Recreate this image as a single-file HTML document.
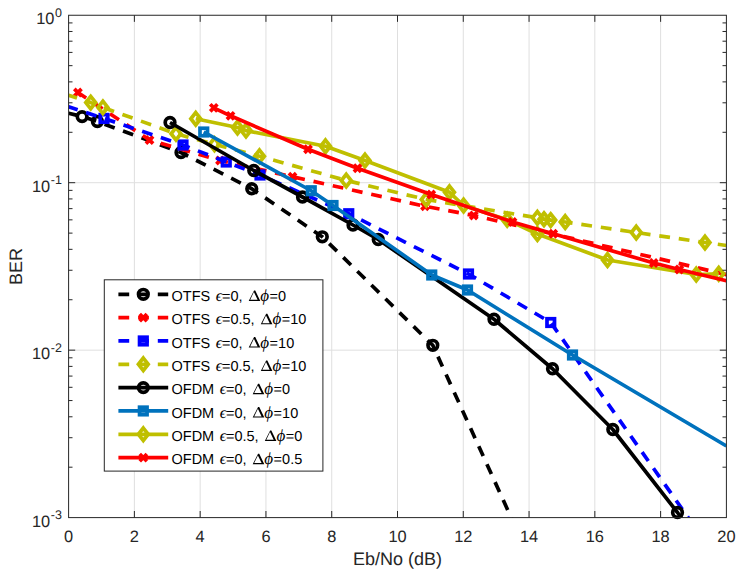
<!DOCTYPE html>
<html><head><meta charset="utf-8"><title>BER</title>
<style>
html,body{margin:0;padding:0;background:#fff;}
body{width:740px;height:574px;overflow:hidden;font-family:"Liberation Sans",sans-serif;}
svg{display:block}
text{font-family:"Liberation Sans",sans-serif;fill:#262626;text-rendering:geometricPrecision;}
.tk{font-size:16.4px}
.sup{font-size:12.5px}
.lb{font-size:18px}
.lg{font-size:14.5px;fill:#000}
.it{font-family:"Liberation Serif",serif;font-style:italic;font-size:16.5px;fill:#000}
.ph{font-size:17px}
.gr{font-family:"Liberation Serif",serif;font-size:15px;fill:#000}
</style></head><body>
<svg width="740" height="574" viewBox="0 0 740 574">
<rect width="740" height="574" fill="#fff"/>
<defs><clipPath id="cp"><rect x="68.6" y="15.25" width="657.8" height="502.35"/></clipPath></defs>

<g stroke="#dfdfdf" stroke-width="1" fill="none">
<line x1="134.38" y1="15.25" x2="134.38" y2="517.6"/>
<line x1="200.16" y1="15.25" x2="200.16" y2="517.6"/>
<line x1="265.94" y1="15.25" x2="265.94" y2="517.6"/>
<line x1="331.72" y1="15.25" x2="331.72" y2="517.6"/>
<line x1="397.50" y1="15.25" x2="397.50" y2="517.6"/>
<line x1="463.28" y1="15.25" x2="463.28" y2="517.6"/>
<line x1="529.06" y1="15.25" x2="529.06" y2="517.6"/>
<line x1="594.84" y1="15.25" x2="594.84" y2="517.6"/>
<line x1="660.62" y1="15.25" x2="660.62" y2="517.6"/>
<line x1="68.6" y1="182.70" x2="726.4" y2="182.70"/>
<line x1="68.6" y1="350.15" x2="726.4" y2="350.15"/>
</g>
<g fill="none">
<path d="M68.60 113.20L82.10 116.60L97.40 121.50L181.00 152.50L251.75 188.75L322.30 236.80L432.80 345.30L511.20 517.60L515.00 526.00" stroke="#000" stroke-width="3.7" stroke-linejoin="round" clip-path="url(#cp)" stroke-dasharray="10.8 8.9" stroke-dashoffset="1.80"/>
<circle cx="82.10" cy="116.60" r="4.80" fill="none" stroke="#000" stroke-width="3.7"/>
<circle cx="97.40" cy="121.50" r="4.80" fill="none" stroke="#000" stroke-width="3.7"/>
<circle cx="181.00" cy="152.50" r="4.80" fill="none" stroke="#000" stroke-width="3.7"/>
<circle cx="251.75" cy="188.75" r="4.80" fill="none" stroke="#000" stroke-width="3.7"/>
<circle cx="322.30" cy="236.80" r="4.80" fill="none" stroke="#000" stroke-width="3.7"/>
<circle cx="432.80" cy="345.30" r="4.80" fill="none" stroke="#000" stroke-width="3.7"/>
<path d="M77.90 92.50L149.50 140.00L220.00 160.50L292.50 176.75L425.00 206.25L473.75 215.50L560.00 235.60L726.40 274.60" stroke="#f00" stroke-width="3.7" stroke-linejoin="round" clip-path="url(#cp)" stroke-dasharray="10.8 8.9" stroke-dashoffset="0.93"/>
<path d="M74.30 88.90L81.50 96.10M74.30 96.10L81.50 88.90" fill="none" stroke="#f00" stroke-width="3.7" stroke-linecap="butt"/>
<path d="M145.90 136.40L153.10 143.60M145.90 143.60L153.10 136.40" fill="none" stroke="#f00" stroke-width="3.7" stroke-linecap="butt"/>
<path d="M216.40 156.90L223.60 164.10M216.40 164.10L223.60 156.90" fill="none" stroke="#f00" stroke-width="3.7" stroke-linecap="butt"/>
<path d="M288.90 173.15L296.10 180.35M288.90 180.35L296.10 173.15" fill="none" stroke="#f00" stroke-width="3.7" stroke-linecap="butt"/>
<path d="M421.40 202.65L428.60 209.85M421.40 209.85L428.60 202.65" fill="none" stroke="#f00" stroke-width="3.7" stroke-linecap="butt"/>
<path d="M470.15 211.90L477.35 219.10M470.15 219.10L477.35 211.90" fill="none" stroke="#f00" stroke-width="3.7" stroke-linecap="butt"/>
<path d="M68.60 106.80L104.00 118.40L183.00 145.00L226.25 162.00L260.00 175.00L348.75 213.75L468.50 274.00L550.75 322.50L688.20 517.60L691.20 526.00" stroke="#00f" stroke-width="3.7" stroke-linejoin="round" clip-path="url(#cp)" stroke-dasharray="10.8 8.9" stroke-dashoffset="1.28"/>
<rect x="100.25" y="114.65" width="7.5" height="7.5" fill="none" stroke="#00f" stroke-width="3.7"/>
<rect x="179.25" y="141.25" width="7.5" height="7.5" fill="none" stroke="#00f" stroke-width="3.7"/>
<rect x="222.50" y="158.25" width="7.5" height="7.5" fill="none" stroke="#00f" stroke-width="3.7"/>
<rect x="256.25" y="171.25" width="7.5" height="7.5" fill="none" stroke="#00f" stroke-width="3.7"/>
<rect x="345.00" y="210.00" width="7.5" height="7.5" fill="none" stroke="#00f" stroke-width="3.7"/>
<rect x="464.75" y="270.25" width="7.5" height="7.5" fill="none" stroke="#00f" stroke-width="3.7"/>
<rect x="547.00" y="318.75" width="7.5" height="7.5" fill="none" stroke="#00f" stroke-width="3.7"/>
<path d="M68.60 95.20L90.70 102.60L102.90 107.40L176.00 133.75L214.50 144.30L259.50 156.25L346.25 180.50L426.25 199.50L537.40 217.80L544.00 219.20L550.70 220.10L565.20 222.00L636.25 232.50L705.00 242.50L726.40 245.50" stroke="#bfbf00" stroke-width="3.7" stroke-linejoin="round" clip-path="url(#cp)" stroke-dasharray="10.8 8.9" stroke-dashoffset="1.93"/>
<path d="M90.70 96.40L95.60 102.60L90.70 108.80L85.80 102.60Z" fill="none" stroke="#bfbf00" stroke-width="3.7" stroke-linejoin="miter"/>
<path d="M102.90 101.20L107.80 107.40L102.90 113.60L98.00 107.40Z" fill="none" stroke="#bfbf00" stroke-width="3.7" stroke-linejoin="miter"/>
<path d="M176.00 127.55L180.90 133.75L176.00 139.95L171.10 133.75Z" fill="none" stroke="#bfbf00" stroke-width="3.7" stroke-linejoin="miter"/>
<path d="M214.50 138.10L219.40 144.30L214.50 150.50L209.60 144.30Z" fill="none" stroke="#bfbf00" stroke-width="3.7" stroke-linejoin="miter"/>
<path d="M259.50 150.05L264.40 156.25L259.50 162.45L254.60 156.25Z" fill="none" stroke="#bfbf00" stroke-width="3.7" stroke-linejoin="miter"/>
<path d="M346.25 174.30L351.15 180.50L346.25 186.70L341.35 180.50Z" fill="none" stroke="#bfbf00" stroke-width="3.7" stroke-linejoin="miter"/>
<path d="M426.25 193.30L431.15 199.50L426.25 205.70L421.35 199.50Z" fill="none" stroke="#bfbf00" stroke-width="3.7" stroke-linejoin="miter"/>
<path d="M537.40 211.60L542.30 217.80L537.40 224.00L532.50 217.80Z" fill="none" stroke="#bfbf00" stroke-width="3.7" stroke-linejoin="miter"/>
<path d="M544.00 213.00L548.90 219.20L544.00 225.40L539.10 219.20Z" fill="none" stroke="#bfbf00" stroke-width="3.7" stroke-linejoin="miter"/>
<path d="M550.70 213.90L555.60 220.10L550.70 226.30L545.80 220.10Z" fill="none" stroke="#bfbf00" stroke-width="3.7" stroke-linejoin="miter"/>
<path d="M565.20 215.80L570.10 222.00L565.20 228.20L560.30 222.00Z" fill="none" stroke="#bfbf00" stroke-width="3.7" stroke-linejoin="miter"/>
<path d="M636.25 226.30L641.15 232.50L636.25 238.70L631.35 232.50Z" fill="none" stroke="#bfbf00" stroke-width="3.7" stroke-linejoin="miter"/>
<path d="M705.00 236.30L709.90 242.50L705.00 248.70L700.10 242.50Z" fill="none" stroke="#bfbf00" stroke-width="3.7" stroke-linejoin="miter"/>
<path d="M170.00 122.50L253.75 170.50L302.50 197.00L353.00 225.00L378.25 239.50L494.00 319.25L552.50 368.75L612.80 429.50L677.50 512.50L684.20 521.80" stroke="#000" stroke-width="3.7" stroke-linejoin="round" clip-path="url(#cp)"/>
<circle cx="170.00" cy="122.50" r="4.80" fill="none" stroke="#000" stroke-width="3.7"/>
<circle cx="253.75" cy="170.50" r="4.80" fill="none" stroke="#000" stroke-width="3.7"/>
<circle cx="302.50" cy="197.00" r="4.80" fill="none" stroke="#000" stroke-width="3.7"/>
<circle cx="353.00" cy="225.00" r="4.80" fill="none" stroke="#000" stroke-width="3.7"/>
<circle cx="378.25" cy="239.50" r="4.80" fill="none" stroke="#000" stroke-width="3.7"/>
<circle cx="494.00" cy="319.25" r="4.80" fill="none" stroke="#000" stroke-width="3.7"/>
<circle cx="552.50" cy="368.75" r="4.80" fill="none" stroke="#000" stroke-width="3.7"/>
<circle cx="612.80" cy="429.50" r="4.80" fill="none" stroke="#000" stroke-width="3.7"/>
<circle cx="677.50" cy="512.50" r="4.80" fill="none" stroke="#000" stroke-width="3.7"/>
<path d="M203.75 132.00L311.25 190.75L333.00 205.50L431.75 275.00L467.50 290.00L572.50 355.00L726.40 446.00" stroke="#0072bd" stroke-width="3.7" stroke-linejoin="round" clip-path="url(#cp)"/>
<rect x="200.00" y="128.25" width="7.5" height="7.5" fill="none" stroke="#0072bd" stroke-width="3.7"/>
<rect x="307.50" y="187.00" width="7.5" height="7.5" fill="none" stroke="#0072bd" stroke-width="3.7"/>
<rect x="329.25" y="201.75" width="7.5" height="7.5" fill="none" stroke="#0072bd" stroke-width="3.7"/>
<rect x="428.00" y="271.25" width="7.5" height="7.5" fill="none" stroke="#0072bd" stroke-width="3.7"/>
<rect x="463.75" y="286.25" width="7.5" height="7.5" fill="none" stroke="#0072bd" stroke-width="3.7"/>
<rect x="568.75" y="351.25" width="7.5" height="7.5" fill="none" stroke="#0072bd" stroke-width="3.7"/>
<path d="M195.75 118.75L237.50 127.50L246.00 130.60L325.50 146.25L365.00 160.50L449.50 192.30L463.60 205.50L507.20 219.70L537.40 234.00L607.50 260.00L696.25 274.50L718.75 273.75" stroke="#bfbf00" stroke-width="3.7" stroke-linejoin="round" clip-path="url(#cp)"/>
<path d="M195.75 112.55L200.65 118.75L195.75 124.95L190.85 118.75Z" fill="none" stroke="#bfbf00" stroke-width="3.7" stroke-linejoin="miter"/>
<path d="M237.50 121.30L242.40 127.50L237.50 133.70L232.60 127.50Z" fill="none" stroke="#bfbf00" stroke-width="3.7" stroke-linejoin="miter"/>
<path d="M246.00 124.40L250.90 130.60L246.00 136.80L241.10 130.60Z" fill="none" stroke="#bfbf00" stroke-width="3.7" stroke-linejoin="miter"/>
<path d="M325.50 140.05L330.40 146.25L325.50 152.45L320.60 146.25Z" fill="none" stroke="#bfbf00" stroke-width="3.7" stroke-linejoin="miter"/>
<path d="M365.00 154.30L369.90 160.50L365.00 166.70L360.10 160.50Z" fill="none" stroke="#bfbf00" stroke-width="3.7" stroke-linejoin="miter"/>
<path d="M449.50 186.10L454.40 192.30L449.50 198.50L444.60 192.30Z" fill="none" stroke="#bfbf00" stroke-width="3.7" stroke-linejoin="miter"/>
<path d="M463.60 199.30L468.50 205.50L463.60 211.70L458.70 205.50Z" fill="none" stroke="#bfbf00" stroke-width="3.7" stroke-linejoin="miter"/>
<path d="M507.20 213.50L512.10 219.70L507.20 225.90L502.30 219.70Z" fill="none" stroke="#bfbf00" stroke-width="3.7" stroke-linejoin="miter"/>
<path d="M537.40 227.80L542.30 234.00L537.40 240.20L532.50 234.00Z" fill="none" stroke="#bfbf00" stroke-width="3.7" stroke-linejoin="miter"/>
<path d="M607.50 253.80L612.40 260.00L607.50 266.20L602.60 260.00Z" fill="none" stroke="#bfbf00" stroke-width="3.7" stroke-linejoin="miter"/>
<path d="M696.25 268.30L701.15 274.50L696.25 280.70L691.35 274.50Z" fill="none" stroke="#bfbf00" stroke-width="3.7" stroke-linejoin="miter"/>
<path d="M718.75 267.55L723.65 273.75L718.75 279.95L713.85 273.75Z" fill="none" stroke="#bfbf00" stroke-width="3.7" stroke-linejoin="miter"/>
<path d="M213.80 107.80L230.50 115.80L308.00 149.25L357.50 168.25L431.25 194.50L512.50 222.00L553.25 233.75L653.75 263.00L679.25 269.50L726.40 280.75" stroke="#f00" stroke-width="3.7" stroke-linejoin="round" clip-path="url(#cp)"/>
<path d="M210.20 104.20L217.40 111.40M210.20 111.40L217.40 104.20" fill="none" stroke="#f00" stroke-width="3.7" stroke-linecap="butt"/>
<path d="M226.90 112.20L234.10 119.40M226.90 119.40L234.10 112.20" fill="none" stroke="#f00" stroke-width="3.7" stroke-linecap="butt"/>
<path d="M304.40 145.65L311.60 152.85M304.40 152.85L311.60 145.65" fill="none" stroke="#f00" stroke-width="3.7" stroke-linecap="butt"/>
<path d="M353.90 164.65L361.10 171.85M353.90 171.85L361.10 164.65" fill="none" stroke="#f00" stroke-width="3.7" stroke-linecap="butt"/>
<path d="M427.65 190.90L434.85 198.10M427.65 198.10L434.85 190.90" fill="none" stroke="#f00" stroke-width="3.7" stroke-linecap="butt"/>
<path d="M508.90 218.40L516.10 225.60M508.90 225.60L516.10 218.40" fill="none" stroke="#f00" stroke-width="3.7" stroke-linecap="butt"/>
<path d="M549.65 230.15L556.85 237.35M549.65 237.35L556.85 230.15" fill="none" stroke="#f00" stroke-width="3.7" stroke-linecap="butt"/>
<path d="M650.15 259.40L657.35 266.60M650.15 266.60L657.35 259.40" fill="none" stroke="#f00" stroke-width="3.7" stroke-linecap="butt"/>
<path d="M675.65 265.90L682.85 273.10M675.65 273.10L682.85 265.90" fill="none" stroke="#f00" stroke-width="3.7" stroke-linecap="butt"/>
</g>
<g stroke="#262626" stroke-width="1" fill="none">
<rect x="68.6" y="15.25" width="657.8" height="502.35"/>
<line x1="134.38" y1="517.6" x2="134.38" y2="511.0"/><line x1="134.38" y1="15.25" x2="134.38" y2="21.85"/>
<line x1="200.16" y1="517.6" x2="200.16" y2="511.0"/><line x1="200.16" y1="15.25" x2="200.16" y2="21.85"/>
<line x1="265.94" y1="517.6" x2="265.94" y2="511.0"/><line x1="265.94" y1="15.25" x2="265.94" y2="21.85"/>
<line x1="331.72" y1="517.6" x2="331.72" y2="511.0"/><line x1="331.72" y1="15.25" x2="331.72" y2="21.85"/>
<line x1="397.50" y1="517.6" x2="397.50" y2="511.0"/><line x1="397.50" y1="15.25" x2="397.50" y2="21.85"/>
<line x1="463.28" y1="517.6" x2="463.28" y2="511.0"/><line x1="463.28" y1="15.25" x2="463.28" y2="21.85"/>
<line x1="529.06" y1="517.6" x2="529.06" y2="511.0"/><line x1="529.06" y1="15.25" x2="529.06" y2="21.85"/>
<line x1="594.84" y1="517.6" x2="594.84" y2="511.0"/><line x1="594.84" y1="15.25" x2="594.84" y2="21.85"/>
<line x1="660.62" y1="517.6" x2="660.62" y2="511.0"/><line x1="660.62" y1="15.25" x2="660.62" y2="21.85"/>
<line x1="68.6" y1="182.70" x2="75.19999999999999" y2="182.70"/><line x1="726.4" y1="182.70" x2="719.8" y2="182.70"/>
<line x1="68.6" y1="132.29" x2="72.5" y2="132.29"/><line x1="726.4" y1="132.29" x2="722.5" y2="132.29"/>
<line x1="68.6" y1="102.81" x2="72.5" y2="102.81"/><line x1="726.4" y1="102.81" x2="722.5" y2="102.81"/>
<line x1="68.6" y1="81.89" x2="72.5" y2="81.89"/><line x1="726.4" y1="81.89" x2="722.5" y2="81.89"/>
<line x1="68.6" y1="65.66" x2="72.5" y2="65.66"/><line x1="726.4" y1="65.66" x2="722.5" y2="65.66"/>
<line x1="68.6" y1="52.40" x2="72.5" y2="52.40"/><line x1="726.4" y1="52.40" x2="722.5" y2="52.40"/>
<line x1="68.6" y1="41.19" x2="72.5" y2="41.19"/><line x1="726.4" y1="41.19" x2="722.5" y2="41.19"/>
<line x1="68.6" y1="31.48" x2="72.5" y2="31.48"/><line x1="726.4" y1="31.48" x2="722.5" y2="31.48"/>
<line x1="68.6" y1="22.91" x2="72.5" y2="22.91"/><line x1="726.4" y1="22.91" x2="722.5" y2="22.91"/>
<line x1="68.6" y1="350.15" x2="75.19999999999999" y2="350.15"/><line x1="726.4" y1="350.15" x2="719.8" y2="350.15"/>
<line x1="68.6" y1="299.74" x2="72.5" y2="299.74"/><line x1="726.4" y1="299.74" x2="722.5" y2="299.74"/>
<line x1="68.6" y1="270.26" x2="72.5" y2="270.26"/><line x1="726.4" y1="270.26" x2="722.5" y2="270.26"/>
<line x1="68.6" y1="249.34" x2="72.5" y2="249.34"/><line x1="726.4" y1="249.34" x2="722.5" y2="249.34"/>
<line x1="68.6" y1="233.11" x2="72.5" y2="233.11"/><line x1="726.4" y1="233.11" x2="722.5" y2="233.11"/>
<line x1="68.6" y1="219.85" x2="72.5" y2="219.85"/><line x1="726.4" y1="219.85" x2="722.5" y2="219.85"/>
<line x1="68.6" y1="208.64" x2="72.5" y2="208.64"/><line x1="726.4" y1="208.64" x2="722.5" y2="208.64"/>
<line x1="68.6" y1="198.93" x2="72.5" y2="198.93"/><line x1="726.4" y1="198.93" x2="722.5" y2="198.93"/>
<line x1="68.6" y1="190.36" x2="72.5" y2="190.36"/><line x1="726.4" y1="190.36" x2="722.5" y2="190.36"/>
<line x1="68.6" y1="467.19" x2="72.5" y2="467.19"/><line x1="726.4" y1="467.19" x2="722.5" y2="467.19"/>
<line x1="68.6" y1="437.71" x2="72.5" y2="437.71"/><line x1="726.4" y1="437.71" x2="722.5" y2="437.71"/>
<line x1="68.6" y1="416.79" x2="72.5" y2="416.79"/><line x1="726.4" y1="416.79" x2="722.5" y2="416.79"/>
<line x1="68.6" y1="400.56" x2="72.5" y2="400.56"/><line x1="726.4" y1="400.56" x2="722.5" y2="400.56"/>
<line x1="68.6" y1="387.30" x2="72.5" y2="387.30"/><line x1="726.4" y1="387.30" x2="722.5" y2="387.30"/>
<line x1="68.6" y1="376.09" x2="72.5" y2="376.09"/><line x1="726.4" y1="376.09" x2="722.5" y2="376.09"/>
<line x1="68.6" y1="366.38" x2="72.5" y2="366.38"/><line x1="726.4" y1="366.38" x2="722.5" y2="366.38"/>
<line x1="68.6" y1="357.81" x2="72.5" y2="357.81"/><line x1="726.4" y1="357.81" x2="722.5" y2="357.81"/>
</g>
<text class="tk" x="68.60" y="542.1" text-anchor="middle">0</text>
<text class="tk" x="134.38" y="542.1" text-anchor="middle">2</text>
<text class="tk" x="200.16" y="542.1" text-anchor="middle">4</text>
<text class="tk" x="265.94" y="542.1" text-anchor="middle">6</text>
<text class="tk" x="331.72" y="542.1" text-anchor="middle">8</text>
<text class="tk" x="397.50" y="542.1" text-anchor="middle">10</text>
<text class="tk" x="463.28" y="542.1" text-anchor="middle">12</text>
<text class="tk" x="529.06" y="542.1" text-anchor="middle">14</text>
<text class="tk" x="594.84" y="542.1" text-anchor="middle">16</text>
<text class="tk" x="660.62" y="542.1" text-anchor="middle">18</text>
<text class="tk" x="726.40" y="542.1" text-anchor="middle">20</text>
<text class="tk" x="36.199999999999996" y="24.35">10</text><text class="sup" x="55.099999999999994" y="16.95">0</text>
<text class="tk" x="31.9" y="191.80">10</text><text class="sup" x="50.8" y="184.40">-1</text>
<text class="tk" x="31.9" y="359.25">10</text><text class="sup" x="50.8" y="351.85">-2</text>
<text class="tk" x="31.9" y="526.70">10</text><text class="sup" x="50.8" y="519.30">-3</text>
<text class="lb" x="397.5" y="564.8" text-anchor="middle">Eb/No (dB)</text>
<text class="lb" transform="translate(21.6,266.4) rotate(-90)" text-anchor="middle">BER</text>
<rect x="104.3" y="279.8" width="218.6" height="191.3" fill="#fff" stroke="#262626" stroke-width="1"/>
<path d="M118.4 294.30H168.2" stroke="#000" stroke-width="3.7" stroke-dasharray="10.8 8.9" fill="none"/>
<circle cx="143.30" cy="294.30" r="4.80" fill="none" stroke="#000" stroke-width="3.7"/>
<text class="lg" x="171.5" y="300.90">OTFS</text>
<text class="it" x="215.80" y="300.90">ϵ</text>
<text class="lg" x="222.00" y="300.90">=0,</text>
<path transform="translate(248.70,300.90)" d="M0 0L5.35 -10.5L6.55 -10.5L11.6 0ZM1.5 -1.1L8.9 -1.1L5.2 -8.8Z" fill="#000" fill-rule="evenodd"/>
<text class="it ph" x="260.30" y="300.90">ϕ</text>
<text class="lg" x="269.60" y="300.90">=0</text>
<path d="M118.4 317.63H168.2" stroke="#f00" stroke-width="3.7" stroke-dasharray="10.8 8.9" fill="none"/>
<path d="M139.70 314.03L146.90 321.23M139.70 321.23L146.90 314.03" fill="none" stroke="#f00" stroke-width="3.7" stroke-linecap="butt"/>
<text class="lg" x="171.5" y="324.23">OTFS</text>
<text class="it" x="215.80" y="324.23">ϵ</text>
<text class="lg" x="222.00" y="324.23">=0.5,</text>
<path transform="translate(260.80,324.23)" d="M0 0L5.35 -10.5L6.55 -10.5L11.6 0ZM1.5 -1.1L8.9 -1.1L5.2 -8.8Z" fill="#000" fill-rule="evenodd"/>
<text class="it ph" x="272.40" y="324.23">ϕ</text>
<text class="lg" x="281.70" y="324.23">=10</text>
<path d="M118.4 340.96H168.2" stroke="#00f" stroke-width="3.7" stroke-dasharray="10.8 8.9" fill="none"/>
<rect x="139.55" y="337.21" width="7.5" height="7.5" fill="none" stroke="#00f" stroke-width="3.7"/>
<text class="lg" x="171.5" y="347.56">OTFS</text>
<text class="it" x="215.80" y="347.56">ϵ</text>
<text class="lg" x="222.00" y="347.56">=0,</text>
<path transform="translate(248.70,347.56)" d="M0 0L5.35 -10.5L6.55 -10.5L11.6 0ZM1.5 -1.1L8.9 -1.1L5.2 -8.8Z" fill="#000" fill-rule="evenodd"/>
<text class="it ph" x="260.30" y="347.56">ϕ</text>
<text class="lg" x="269.60" y="347.56">=10</text>
<path d="M118.4 364.29H168.2" stroke="#bfbf00" stroke-width="3.7" stroke-dasharray="10.8 8.9" fill="none"/>
<path d="M143.30 358.09L148.20 364.29L143.30 370.49L138.40 364.29Z" fill="none" stroke="#bfbf00" stroke-width="3.7" stroke-linejoin="miter"/>
<text class="lg" x="171.5" y="370.89">OTFS</text>
<text class="it" x="215.80" y="370.89">ϵ</text>
<text class="lg" x="222.00" y="370.89">=0.5,</text>
<path transform="translate(260.80,370.89)" d="M0 0L5.35 -10.5L6.55 -10.5L11.6 0ZM1.5 -1.1L8.9 -1.1L5.2 -8.8Z" fill="#000" fill-rule="evenodd"/>
<text class="it ph" x="272.40" y="370.89">ϕ</text>
<text class="lg" x="281.70" y="370.89">=10</text>
<path d="M118.4 387.62H168.2" stroke="#000" stroke-width="3.7" fill="none"/>
<circle cx="143.30" cy="387.62" r="4.80" fill="none" stroke="#000" stroke-width="3.7"/>
<text class="lg" x="171.5" y="394.22">OFDM</text>
<text class="it" x="219.80" y="394.22">ϵ</text>
<text class="lg" x="226.00" y="394.22">=0,</text>
<path transform="translate(252.70,394.22)" d="M0 0L5.35 -10.5L6.55 -10.5L11.6 0ZM1.5 -1.1L8.9 -1.1L5.2 -8.8Z" fill="#000" fill-rule="evenodd"/>
<text class="it ph" x="264.30" y="394.22">ϕ</text>
<text class="lg" x="273.60" y="394.22">=0</text>
<path d="M118.4 410.95H168.2" stroke="#0072bd" stroke-width="3.7" fill="none"/>
<rect x="139.55" y="407.20" width="7.5" height="7.5" fill="none" stroke="#0072bd" stroke-width="3.7"/>
<text class="lg" x="171.5" y="417.55">OFDM</text>
<text class="it" x="219.80" y="417.55">ϵ</text>
<text class="lg" x="226.00" y="417.55">=0,</text>
<path transform="translate(252.70,417.55)" d="M0 0L5.35 -10.5L6.55 -10.5L11.6 0ZM1.5 -1.1L8.9 -1.1L5.2 -8.8Z" fill="#000" fill-rule="evenodd"/>
<text class="it ph" x="264.30" y="417.55">ϕ</text>
<text class="lg" x="273.60" y="417.55">=10</text>
<path d="M118.4 434.28H168.2" stroke="#bfbf00" stroke-width="3.7" fill="none"/>
<path d="M143.30 428.08L148.20 434.28L143.30 440.48L138.40 434.28Z" fill="none" stroke="#bfbf00" stroke-width="3.7" stroke-linejoin="miter"/>
<text class="lg" x="171.5" y="440.88">OFDM</text>
<text class="it" x="219.80" y="440.88">ϵ</text>
<text class="lg" x="226.00" y="440.88">=0.5,</text>
<path transform="translate(264.80,440.88)" d="M0 0L5.35 -10.5L6.55 -10.5L11.6 0ZM1.5 -1.1L8.9 -1.1L5.2 -8.8Z" fill="#000" fill-rule="evenodd"/>
<text class="it ph" x="276.40" y="440.88">ϕ</text>
<text class="lg" x="285.70" y="440.88">=0</text>
<path d="M118.4 457.61H168.2" stroke="#f00" stroke-width="3.7" fill="none"/>
<path d="M139.70 454.01L146.90 461.21M139.70 461.21L146.90 454.01" fill="none" stroke="#f00" stroke-width="3.7" stroke-linecap="butt"/>
<text class="lg" x="171.5" y="464.21">OFDM</text>
<text class="it" x="219.80" y="464.21">ϵ</text>
<text class="lg" x="226.00" y="464.21">=0,</text>
<path transform="translate(252.70,464.21)" d="M0 0L5.35 -10.5L6.55 -10.5L11.6 0ZM1.5 -1.1L8.9 -1.1L5.2 -8.8Z" fill="#000" fill-rule="evenodd"/>
<text class="it ph" x="264.30" y="464.21">ϕ</text>
<text class="lg" x="273.60" y="464.21">=0.5</text>
</svg></body></html>
